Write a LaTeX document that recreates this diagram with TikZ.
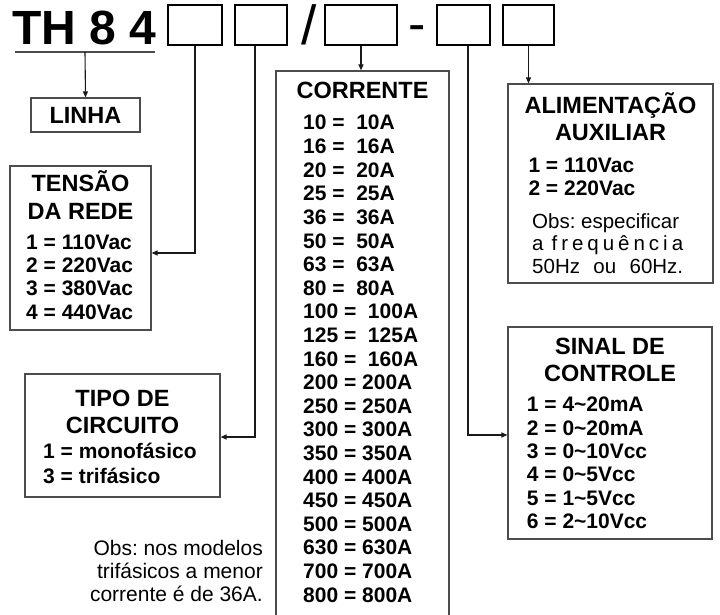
\documentclass[tikz,border=0pt]{standalone}
\usepackage{fontspec}
\setmainfont{Liberation Sans}
\frenchspacing
\usetikzlibrary{arrows.meta}
\tikzset{
  topbox/.style={draw=black, line width=2pt, minimum height=40pt, inner sep=0pt},
  panel/.style={draw=black!70, line width=1.2pt, inner sep=0pt},
  conn/.style={line width=1.1pt, draw=black!90},
  arr/.style={conn, -{Triangle[length=6pt,width=5pt]}},
  head/.style={font=\bfseries\fontsize{23.5}{27}\selectfont, inner sep=0pt, anchor=base},
  item/.style={font=\bfseries\fontsize{21}{22}\selectfont, inner sep=0pt, anchor=base west},
  obs/.style={font=\fontsize{20.5}{22}\selectfont, inner sep=0pt},
}
\begin{document}
\begin{tikzpicture}[x=1pt,y=-1pt]
\fill[white] (0,0) rectangle (720,615);
\useasboundingbox (0,0) rectangle (720,615);

% title row
\node[font=\bfseries\fontsize{48}{48}\selectfont, inner sep=0pt, anchor=base west] (title) at (12,45) {TH 8 4};
\node[topbox, minimum width=54pt] (b1) at (195,25) {};
\node[topbox, minimum width=52pt] (b2) at (261,25) {};
\node[font=\fontsize{55}{55}\selectfont, inner sep=0pt, anchor=base] (slash) at (309,45) {/};
\node[topbox, minimum width=72pt] (b3) at (361,25) {};
\node[font=\fontsize{52}{52}\selectfont, inner sep=0pt, anchor=base, text height=30pt, text depth=0pt] (dash) at (417.5,42) {-};
\node[topbox, minimum width=53pt] (b4) at (463.5,25) {};
\node[topbox, minimum width=51pt] (b5) at (528.5,25) {};
\coordinate (ulL) at (15,52);
\coordinate (ulR) at (155,52);
\coordinate (ulM) at (85,52);
\draw[line width=2pt, black!70] (ulL) -- (ulR);

% panels
\node[panel, minimum width=109pt, minimum height=34pt, font=\bfseries\fontsize{23.5}{27}\selectfont] (linha) at (85.5,115) {LINHA};
\node[panel, minimum width=141pt, minimum height=164pt] (tensao) at (80.5,248) {};
\node[panel, minimum width=195pt, minimum height=123pt] (tipo) at (122.5,435.5) {};
\node[panel, minimum width=173pt, minimum height=552pt] (corrente) at (362.5,347) {};
\node[panel, minimum width=205pt, minimum height=199pt] (alim) at (610.5,183.5) {};
\node[panel, minimum width=204pt, minimum height=212pt] (sinal) at (610,433) {};

% connectors
\draw[arr] (ulM) -- (linha.north);
\draw[arr] (b1.south) |- ([yshift=-5pt]tensao.east);
\draw[arr] ([xshift=-6pt]b2.south) |- ([yshift=-1.5pt]tipo.east);
\draw[arr] (b3.south) -- (b3.south |- corrente.north);
\draw[arr] ([xshift=4.5pt]b4.south) |- ([yshift=-2pt]sinal.west);
\draw[arr] (b5.south) -- (b5.south |- alim.north);

% TENSAO
\node[head] (t1) at (80.5,191.7) {TENSÃO};
\node[head] (t2) at (80.5,219.3) {DA REDE};
\node[item] (t3) at (26,249.3) {1 = 110Vac};
\node[item] (t4) at (26,272.6) {2 = 220Vac};
\node[item] (t5) at (26,295.9) {3 = 380Vac};
\node[item] (t6) at (26,319.2) {4 = 440Vac};

% TIPO
\node[head] (c1) at (122.5,406.7) {TIPO DE};
\node[head] (c2) at (122.5,433.3) {CIRCUITO};
\node[item] (c3) at (43,458.3) {1 = monofásico};
\node[item] (c4) at (43,483.3) {3 = trifásico};

% CORRENTE
\node[head] (r0) at (362.5,99) {CORRENTE};
\foreach \t [count=\i from 0] in {10 =\ \ 10A, 16 =\ \ 16A, 20 =\ \ 20A, 25 =\ \ 25A, 36 =\ \ 36A, 50 =\ \ 50A, 63 =\ \ 63A, 80 =\ \ 80A, 100 =\ \ 100A, 125 =\ \ 125A, 160 =\ \ 160A, 200 = 200A, 250 = 250A, 300 = 300A, 350 = 350A, 400 = 400A, 450 = 450A, 500 = 500A, 630 = 630A, 700 = 700A, 800 = 800A}
  \node[item] (ri\i) at (303,130+23.6*\i) {\t};

% ALIMENTACAO
\node[head] (a1) at (610.5,113.3) {ALIMENTAÇÃO};
\node[head] (a2) at (610.5,140) {AUXILIAR};
\node[item] (a3) at (528.3,172.7) {1 = 110Vac};
\node[item] (a4) at (528.3,195) {2 = 220Vac};
\node[obs, anchor=base west] (a5) at (532,228) {Obs: especificar};
\node[obs, anchor=base west] (a6) at (532,250.7) {\hbox to 151pt{a\hfill\hfill f\hfill r\hfill e\hfill q\hfill u\hfill ê\hfill n\hfill c\hfill i\hfill a}};
\node[obs, anchor=base west] (a7) at (532,273.3) {\hbox to 151pt{50Hz\hfill ou\hfill 60Hz.}};

% SINAL
\node[head] (s1) at (610,354) {SINAL DE};
\node[head] (s2) at (610,381.7) {CONTROLE};
\foreach \t [count=\i from 0] in {1 = 4\textasciitilde 20mA, 2 = 0\textasciitilde 20mA, 3 = 0\textasciitilde 10Vcc, 4 = 0\textasciitilde 5Vcc, 5 = 1\textasciitilde 5Vcc, 6 = 2\textasciitilde 10Vcc}
  \node[item] (si\i) at (526.7,411.7+23.4*\i) {\t};

% bottom note
\node[obs, anchor=base east, font=\fontsize{21}{22}\selectfont] (n1) at (263,555) {Obs: nos modelos};
\node[obs, anchor=base east, font=\fontsize{21}{22}\selectfont] (n2) at (263,578) {trifásicos a menor};
\node[obs, anchor=base east, font=\fontsize{21}{22}\selectfont] (n3) at (263,601) {corrente é de 36A.};
\end{tikzpicture}
\end{document}
